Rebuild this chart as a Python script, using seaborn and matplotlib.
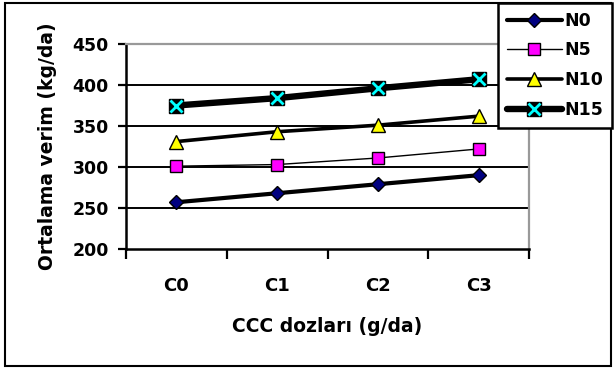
import matplotlib
matplotlib.use("Agg")
import matplotlib.pyplot as plt
from matplotlib.lines import Line2D
from matplotlib.patches import Rectangle
import seaborn as sns
import pandas as pd

# Data: mean yield (kg/da) by CCC dose and nitrogen level
categories = ["C0", "C1", "C2", "C3"]
n0 = [257, 268, 279, 290]
n5 = [301, 303, 311, 322]
n10 = [331, 343, 351, 362]
n15 = [375, 384, 396, 407]
y_ticks = [200, 250, 300, 350, 400, 450]

sns.set_theme(style="white")
plt.rcParams["font.family"] = ["DejaVu Sans"]
plt.rcParams["font.weight"] = "bold"
plt.rcParams["text.color"] = "black"
plt.rcParams["axes.labelcolor"] = "black"
plt.rcParams["xtick.color"] = "black"
plt.rcParams["ytick.color"] = "black"

W, H = 615, 369
fig = plt.figure(figsize=(W / 100, H / 100), dpi=100)
ax = fig.add_axes([126 / W, 1 - 249 / H, 403 / W, 205 / H])

df = pd.DataFrame({"doz": categories, "N0": n0, "N5": n5, "N10": n10, "N15": n15})
x = list(range(len(categories)))
df["pos"] = x

styles = {
    "N0": dict(lw=3.0, marker="D", mfc="#000080", ms=7),
    "N5": dict(lw=1.0, marker="s", mfc="#FF00FF", ms=8.5),
    "N10": dict(lw=2.6, marker="^", mfc="#FFFF00", ms=9.5),
    "N15": dict(lw=4.6, marker="s", mfc="black", ms=10),
}

for name in ["N0", "N5", "N10", "N15"]:
    st = styles[name]
    sns.lineplot(data=df, x="pos", y=name, ax=ax, color="black", lw=st["lw"],
                 marker=st["marker"], markerfacecolor=st["mfc"],
                 markeredgecolor="black", markeredgewidth=1.0,
                 markersize=st["ms"], zorder=3)
sns.scatterplot(data=df, x="pos", y="N15", ax=ax, marker="x", color="#00FFFF",
                s=75, linewidth=2.0, zorder=4)

ax.set_xlim(-0.5, 3.5)
ax.set_ylim(200, 450)
ax.set_yticks(y_ticks)
ax.set_yticklabels([str(v) for v in y_ticks], fontsize=12.5, fontweight="bold")
for v in y_ticks[1:-1]:
    ax.axhline(v, color="black", lw=1.4, zorder=1)

ax.set_xticks([-0.5, 0.5, 1.5, 2.5, 3.5])
ax.set_xticklabels([])
ax.set_xticks(x, minor=True)
ax.set_xticklabels(categories, minor=True, fontsize=13, fontweight="bold")
ax.tick_params(axis="x", which="major", length=7, width=1.6, direction="out",
               color="black", bottom=True)
ax.tick_params(axis="x", which="minor", length=0, pad=20)
ax.tick_params(axis="y", length=5.5, width=1.6, direction="out", color="black",
               left=True, pad=7)

for s in ["left", "bottom"]:
    ax.spines[s].set_color("black")
    ax.spines[s].set_linewidth(1.8)
for s in ["top", "right"]:
    ax.spines[s].set_color("#999999")
    ax.spines[s].set_linewidth(1.6)

ax.set_xlabel("CCC dozları (g/da)", fontsize=13.5, fontweight="bold", labelpad=16)
ax.set_ylabel("Ortalama verim (kg/da)", fontsize=13.5, fontweight="bold", labelpad=11)

# legend
handles = [
    Line2D([], [], color="black", lw=3.0, marker="D", mfc="#000080", mec="black", ms=7),
    Line2D([], [], color="black", lw=1.0, marker="s", mfc="#FF00FF", mec="black", ms=8.5),
    Line2D([], [], color="black", lw=2.6, marker="^", mfc="#FFFF00", mec="black", ms=9.5),
    (Line2D([], [], color="black", lw=4.6, marker="s", mfc="black", mec="black", ms=10),
     Line2D([], [], ls="none", marker="x", mec="#00FFFF", mew=2.0, ms=9)),
]
leg = fig.legend(handles, ["N0", "N5", "N10", "N15"], loc="upper left",
                 bbox_to_anchor=(498 / W, 1 - 3 / H), frameon=True,
                 fancybox=False, edgecolor="black", framealpha=1,
                 prop={"size": 12.5, "weight": "bold"}, handlelength=3.2,
                 labelspacing=0.68, handletextpad=0.15, borderpad=0.5,
                 borderaxespad=0)
leg.get_frame().set_linewidth(1.8)

fig.patches.append(Rectangle((5 / W, 3 / H), 606 / W, 363 / H,
                             transform=fig.transFigure, fill=False,
                             edgecolor="black", lw=1.5, zorder=0))

fig.savefig("out.png", dpi=100)
